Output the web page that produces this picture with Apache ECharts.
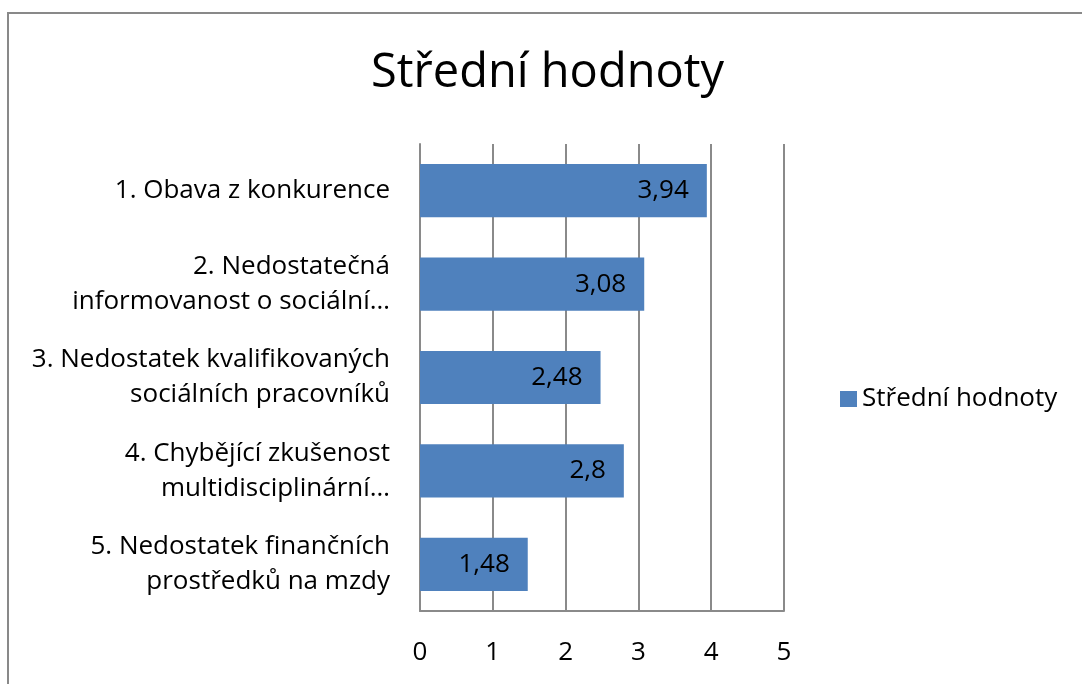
<!DOCTYPE html>
<html><head><meta charset="utf-8">
<script src="https://cdn.jsdelivr.net/npm/echarts@6/dist/echarts.min.js"></script>
<style>html,body{margin:0;padding:0;background:#fff}#c{width:1082px;height:684px}</style>
</head><body><div id="c"></div>
<script>
const categories = [
  "1. Obava z konkurence",
  "2. Nedostatečná\ninformovanost o sociální…",
  "3. Nedostatek kvalifikovaných\nsociálních pracovníků",
  "4. Chybějící zkušenost\nmultidisciplinární…",
  "5. Nedostatek finančních\nprostředků na mzdy"
];
const values = [3.94, 3.08, 2.48, 2.8, 1.48];
const seriesName = "Střední hodnoty";
const titleText = "Střední hodnoty";

const FONT = "Open Sans";
const FS = 26;
const chart = echarts.init(document.getElementById('c'));
chart.setOption({
  animation: false,
  textStyle: {fontFamily: FONT},
  graphic: [{type:'rect', shape:{x:8, y:13, width:1200, height:800}, style:{fill:'none', stroke:'#898989', lineWidth:2}, silent:true}],
  title: {text: titleText, left: 371, top: 50, padding: 0, textStyle:{fontFamily: FONT, fontSize: 47, fontWeight: 'normal', color:'#000'}},
  legend: {data:[seriesName], left: 840, top: 386, padding: 0, itemWidth: 17, itemHeight: 16, itemGap: 6, icon:'rect',
    textStyle:{fontFamily: FONT, fontSize: FS, color:'#000', padding:[0,0,0,0]}},
  grid: {left: 420, right: 298, top: 144, bottom: 73},
  xAxis: {type:'value', min:0, max:5, interval:1,
    axisLine:{show:true, lineStyle:{color:'#8a8a8a', width:2}},
    axisTick:{show:false},
    splitLine:{show:true, lineStyle:{color:'#8a8a8a', width:2}},
    axisLabel:{fontFamily: FONT, fontSize: FS, color:'#000', margin: 29}},
  yAxis: {type:'category', data: categories, inverse:true,
    axisLine:{show:true, lineStyle:{color:'#8a8a8a', width:2}},
    axisTick:{show:false},
    axisLabel:{fontFamily: FONT, fontSize: FS, color:'#000', margin: 30, lineHeight: 35, align:'right'}},
  series: [{name: seriesName, type:'bar', data: values, barCategoryGap:'43%',
    itemStyle:{color:'#4F81BD'},
    label:{show:true, position:'insideRight', distance: 18, fontFamily: FONT, fontSize: FS, color:'#000',
      formatter: p => String(p.value).replace('.', ',')}}]
});
</script></body></html>
